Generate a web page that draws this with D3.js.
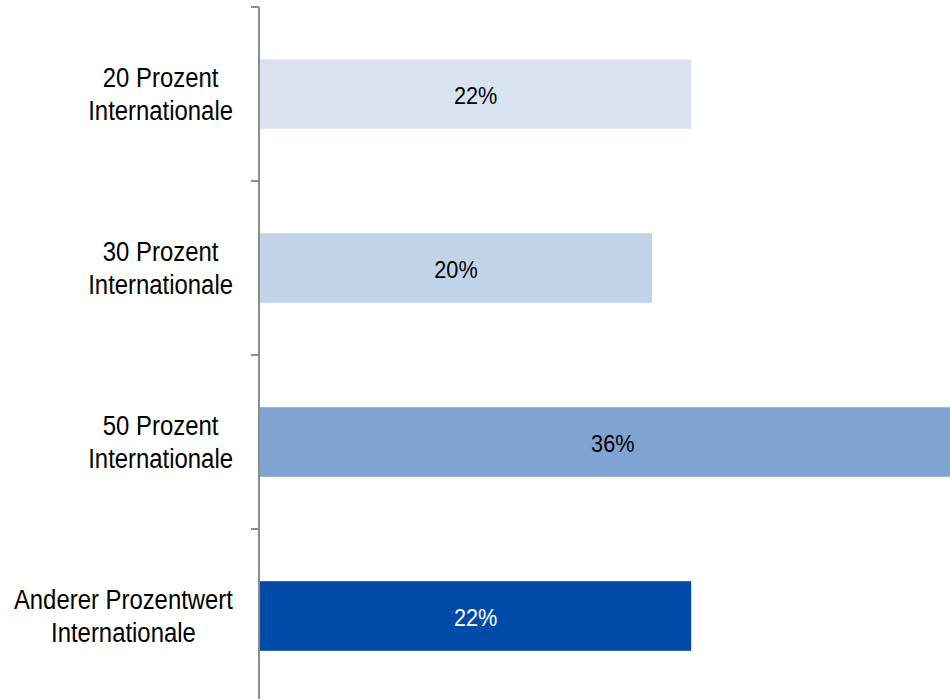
<!DOCTYPE html>
<html>
<head>
<meta charset="utf-8">
<script src="https://cdn.jsdelivr.net/npm/d3@7"></script>
<style>
  html, body { margin: 0; padding: 0; background: #fff; }
  svg { display: block; font-family: "Liberation Sans", Arial, sans-serif; }
</style>
</head>
<body>
<svg id="chart" width="950" height="699"></svg>
<script>
// Share of respondents per answer option
const categories = [
  ["20 Prozent", "Internationale"],
  ["30 Prozent", "Internationale"],
  ["50 Prozent", "Internationale"],
  ["Anderer Prozentwert", "Internationale"]
];
const values = [22, 20, 36, 22];
const barColors = ["#d9e3ef", "#c1d3e9", "#7fa4d1", "#004ba8"];
const valueTextColors = ["#000", "#000", "#000", "#fff"];

const svg = d3.select("#chart");
const axisX = 260;
const labelRight = 233;
const narrow = 0.885; // condensed glyph width

const x = d3.scaleLinear().domain([0, 40]).range([axisX, axisX + 784]);
const y = d3.scaleBand()
  .domain(d3.range(categories.length))
  .range([7, 703])
  .paddingInner(0.6)
  .paddingOuter(0.3);

// Bars
svg.append("g").selectAll("rect")
  .data(values)
  .join("rect")
  .attr("x", x(0))
  .attr("y", (d, i) => y(i))
  .attr("width", d => x(d) - x(0))
  .attr("height", y.bandwidth())
  .attr("fill", (d, i) => barColors[i]);

// Value labels centred in each bar
svg.append("g").selectAll("text")
  .data(values)
  .join("text")
  .attr("transform", (d, i) => `translate(${(x(0) + x(d)) / 2},${y(i) + y.bandwidth() / 2 + 10}) scale(${narrow},1)`)
  .attr("text-anchor", "middle")
  .attr("font-size", 24.5)
  .attr("fill", (d, i) => valueTextColors[i])
  .text(d => d + "%");

// Vertical axis line with ticks on category boundaries
const axis = svg.append("g").attr("stroke", "#8c8c8c").attr("stroke-width", 2);
axis.append("line")
  .attr("x1", axisX - 1).attr("x2", axisX - 1)
  .attr("y1", y.range()[0]).attr("y2", y.range()[1]);
const bounds = d3.range(categories.length + 1).map(i => y.range()[0] + i * y.step());
axis.selectAll("line.tick")
  .data(bounds)
  .join("line")
  .attr("class", "tick")
  .attr("x1", axisX - 9).attr("x2", axisX - 1)
  .attr("y1", d => d).attr("y2", d => d);

// Category labels: two centred lines, block right-aligned to the axis
const lineGap = 34;
categories.forEach((lines, i) => {
  const cy = y(i) + y.bandwidth() / 2;
  const g = svg.append("g");
  const t = g.selectAll("text")
    .data(lines)
    .join("text")
    .attr("text-anchor", "middle")
    .attr("font-size", 27)
    .attr("fill", "#000")
    .attr("y", (d, j) => (j - (lines.length - 1) / 2) * lineGap + 9.5)
    .text(d => d);
  const w = d3.max(t.nodes(), n => n.getComputedTextLength());
  g.attr("transform", `translate(${labelRight - (w * narrow) / 2},${cy}) scale(${narrow},1)`);
});
</script>
</body>
</html>
